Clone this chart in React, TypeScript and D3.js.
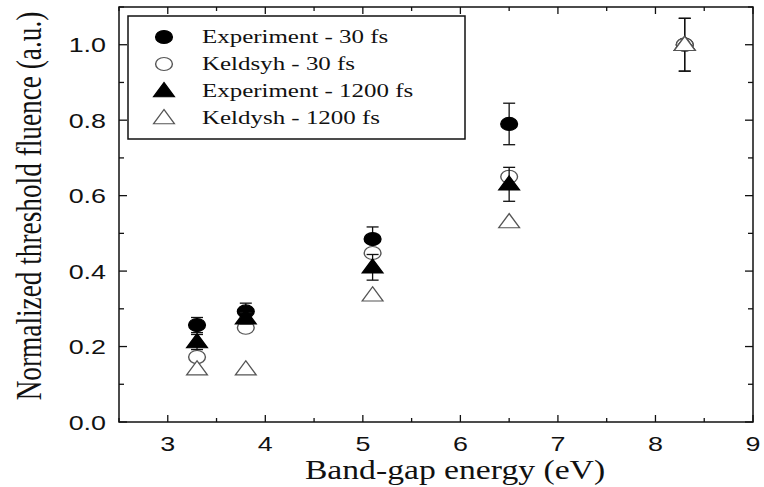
import React from "react";
import * as d3 from "d3";

// Band-gap energies of the materials (eV)
const bandGap = [3.3, 3.8, 5.1, 6.5, 8.3];

// Normalized threshold fluence per series
const exp30 = [0.257, 0.293, 0.485, 0.79, 1.0];
const exp30Err = [0.02, 0.022, 0.032, 0.055, 0.07];
const keld30 = [0.172, 0.25, 0.448, 0.65, 1.0];
const exp1200 = [0.212, 0.275, 0.41, 0.63, 1.0];
const exp1200Err = [0.02, 0.015, 0.034, 0.045, 0.0];
const keld1200 = [0.14, 0.14, 0.336, 0.53, 1.0];

const xTicks = [3, 4, 5, 6, 7, 8, 9];
const yTicks = [0.0, 0.2, 0.4, 0.6, 0.8, 1.0];

const legendLabels = [
  "Experiment - 30 fs",
  "Keldsyh - 30 fs",
  "Experiment - 1200 fs",
  "Keldysh - 1200 fs",
];

const W = 764;
const H = 487;
const left = 119;
const right = 753;
const top = 7;
const bottom = 422;
// horizontal stretch applied to glyphs and markers
const SX = 1.28;

const x = d3.scaleLinear().domain([2.5, 9]).range([left, right]);
const y = d3.scaleLinear().domain([0, 1.1]).range([bottom, top]);

const circlePath = d3.symbol(d3.symbolCircle, 135)()!;
const trianglePath = d3.symbol(d3.symbolTriangle, 115)()!;

type Marker = { shape: "circle" | "triangle"; filled: boolean };
const markers: Marker[] = [
  { shape: "circle", filled: true },
  { shape: "circle", filled: false },
  { shape: "triangle", filled: true },
  { shape: "triangle", filled: false },
];

function Symbol({ m, cx, cy }: { m: Marker; cx: number; cy: number }) {
  const d = m.shape === "circle" ? circlePath : trianglePath;
  const dy = m.shape === "triangle" ? 1 : 0;
  return (
    <path
      d={d}
      transform={`translate(${cx},${cy + dy}) scale(${SX},1)`}
      fill={m.filled ? "#000" : "#fff"}
      stroke={m.filled ? "#000" : "#555"}
      strokeWidth={1.1}
    />
  );
}

function Label({
  x: tx,
  y: ty,
  anchor,
  size,
  family,
  children,
}: {
  x: number;
  y: number;
  anchor: "start" | "middle" | "end";
  size: number;
  family: string;
  children: React.ReactNode;
}) {
  return (
    <text
      transform={`translate(${tx},${ty}) scale(${SX},1)`}
      textAnchor={anchor}
      fontFamily={family}
      fontSize={size}
      fill="#111"
    >
      {children}
    </text>
  );
}

function ErrorBars({ vals, errs }: { vals: number[]; errs: number[] }) {
  return (
    <g stroke="#111" strokeWidth={1.3}>
      {bandGap.map((b, i) => {
        if (!errs[i]) return null;
        const cx = x(b);
        const y1 = y(vals[i] + errs[i]);
        const y2 = y(vals[i] - errs[i]);
        return (
          <g key={i}>
            <line x1={cx} x2={cx} y1={y1} y2={y2} />
            <line x1={cx - 6} x2={cx + 6} y1={y1} y2={y1} />
            <line x1={cx - 6} x2={cx + 6} y1={y2} y2={y2} />
          </g>
        );
      })}
    </g>
  );
}

export default function App() {
  const series = [exp30, keld30, exp1200, keld1200];
  const xMinor = d3.range(2.5, 9.01, 0.5).filter((v) => !xTicks.includes(v));
  const yMinor = d3.range(0.1, 1.11, 0.2);
  const sans = "'Liberation Sans', Arial, sans-serif";
  const serif = "'Liberation Serif', 'Times New Roman', serif";

  return (
    <svg
      width={W}
      height={H}
      style={{ position: "absolute", left: 0, top: 0, background: "#fff" }}
    >
      {/* axis ticks (inward on all sides) */}
      <g stroke="#111" strokeWidth={1.3}>
        {xTicks.map((t) => (
          <g key={t}>
            <line x1={x(t)} x2={x(t)} y1={bottom} y2={bottom - 7} />
            <line x1={x(t)} x2={x(t)} y1={top} y2={top + 7} />
          </g>
        ))}
        {xMinor.map((t) => (
          <g key={t}>
            <line x1={x(t)} x2={x(t)} y1={bottom} y2={bottom - 4} />
            <line x1={x(t)} x2={x(t)} y1={top} y2={top + 4} />
          </g>
        ))}
        {yTicks.map((t) => (
          <g key={t}>
            <line x1={left} x2={left + 8} y1={y(t)} y2={y(t)} />
            <line x1={right} x2={right - 8} y1={y(t)} y2={y(t)} />
          </g>
        ))}
        {yMinor.map((t) => (
          <g key={t}>
            <line x1={left} x2={left + 5} y1={y(t)} y2={y(t)} />
            <line x1={right} x2={right - 5} y1={y(t)} y2={y(t)} />
          </g>
        ))}
      </g>

      {/* frame */}
      <rect
        x={left}
        y={top}
        width={right - left}
        height={bottom - top}
        fill="none"
        stroke="#111"
        strokeWidth={1.5}
      />

      {/* tick labels */}
      {xTicks.map((t) => (
        <Label key={t} x={x(t)} y={451} anchor="middle" size={21} family={sans}>
          {t}
        </Label>
      ))}
      {yTicks.map((t) => (
        <Label key={t} x={106} y={y(t) + 7.5} anchor="end" size={21} family={sans}>
          {t.toFixed(1)}
        </Label>
      ))}

      {/* axis titles */}
      <Label x={455} y={479} anchor="middle" size={26.3} family={serif}>
        Band-gap energy (eV)
      </Label>
      <text
        transform={`translate(41,${206}) rotate(-90) scale(1,${SX})`}
        textAnchor="middle"
        fontFamily={serif}
        fontSize={27.3}
        fill="#111"
      >
        Normalized threshold fluence (a.u.)
      </text>

      {/* data: markers drawn in series order, error bars with each experiment */}
      {series.map((vals, si) => (
        <g key={si}>
          {si === 0 && <ErrorBars vals={exp30} errs={exp30Err} />}
          {si === 2 && <ErrorBars vals={exp1200} errs={exp1200Err} />}
          {bandGap.map((b, i) => (
            <Symbol key={i} m={markers[si]} cx={x(b)} cy={y(vals[i])} />
          ))}
        </g>
      ))}
      {/* error bar at the reference material */}
      <ErrorBars vals={[0, 0, 0, 0, 1.0]} errs={[0, 0, 0, 0, 0.07]} />
      <Symbol m={markers[3]} cx={x(8.3)} cy={y(1.0)} />

      {/* legend */}
      <rect
        x={128}
        y={16}
        width={337}
        height={123}
        fill="#fff"
        stroke="#111"
        strokeWidth={1.5}
      />
      {legendLabels.map((lab, i) => {
        const cy = 37 + i * 27;
        return (
          <g key={lab}>
            <Symbol m={markers[i]} cx={164} cy={cy} />
            <Label x={202} y={cy + 6} anchor="start" size={19.5} family={serif}>
              {lab}
            </Label>
          </g>
        );
      })}
    </svg>
  );
}
